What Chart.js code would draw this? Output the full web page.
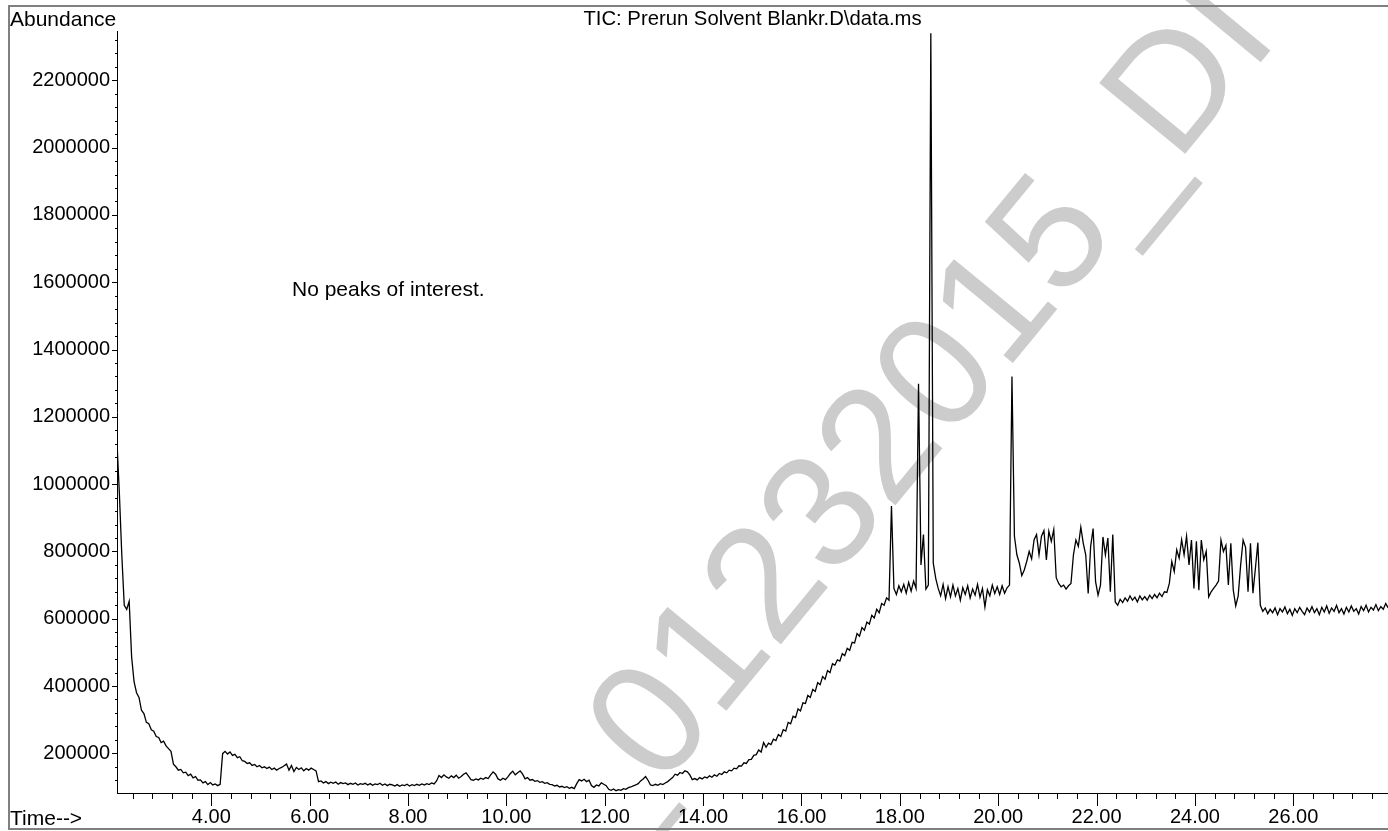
<!DOCTYPE html>
<html>
<head>
<meta charset="utf-8">
<script src="https://cdn.jsdelivr.net/npm/chart.js@4.4.1/dist/chart.umd.min.js"></script>
<style>
  html, body { margin: 0; padding: 0; background: #fff; }
  canvas { display: block; background: #fff; }
</style>
</head>
<body>
<canvas id="tic" width="1388" height="831"></canvas>
<script>
// TIC do branco de solvente (abundancia em milhares)
const scanStart = 2.08;   // min, primeiro scan
const scanStep = 0.05;    // min entre scans
const abundanceK = [
  1130, 975, 790, 640, 628, 652, 486, 412, 380, 366, 328, 318, 292, 288, 270, 266, 250, 247, 232, 236,
  222, 214, 206, 168, 160, 150, 152, 142, 144, 134, 138, 127, 131, 120, 121, 112, 116, 107, 113, 106,
  109, 104, 108, 199, 206, 198, 204, 194, 197, 187, 190, 178, 176, 170, 172, 164, 167, 160, 164, 157,
  160, 155, 159, 152, 156, 150, 155, 158, 163, 168, 150, 164, 146, 158, 152, 157, 148, 155, 150, 156,
  152, 148, 116, 118, 112, 116, 110, 114, 111, 115, 108, 113, 110, 112, 107, 111, 108, 112, 106, 110,
  108, 111, 106, 110, 105, 109, 107, 111, 105, 109, 104, 108, 106, 103, 107, 102, 106, 104, 108, 103,
  107, 104, 108, 105, 109, 106, 110, 107, 112, 109, 118, 134, 128, 136, 130, 126, 133, 128, 135, 126,
  131, 138, 142, 132, 122, 120, 124, 121, 126, 123, 128, 125, 136, 145, 138, 124, 120, 126, 122, 130,
  140, 147, 136, 142, 148, 138, 124, 128, 120, 122, 117, 119, 114, 116, 111, 113, 108, 107, 103, 105,
  100, 102, 98, 101, 96, 99, 95, 110, 122, 118, 123, 116, 120, 104, 99, 106, 103, 112, 108, 104,
  93, 90, 94, 89, 92, 90, 95, 93, 98, 100, 103, 106, 110, 118, 124, 131, 120, 106, 104, 108,
  105, 110, 107, 112, 116, 122, 128, 138, 135, 143, 140, 148, 145, 136, 122, 125, 121, 128, 124, 130,
  127, 133, 129, 136, 132, 140, 137, 145, 142, 150, 148, 156, 154, 163, 162, 172, 170, 181, 182, 194,
  196, 210, 204, 232, 218, 230, 226, 242, 238, 256, 250, 270, 266, 292, 288, 310, 306, 332, 326, 350,
  348, 372, 366, 390, 384, 410, 404, 428, 420, 446, 440, 466, 462, 478, 474, 496, 490, 512, 506, 530,
  528, 556, 548, 574, 566, 590, 584, 610, 602, 628, 618, 645, 640, 662, 655, 935, 690, 672, 698, 680,
  702, 676, 708, 682, 712, 690, 1298, 760, 850, 688, 700, 2340, 765, 720, 690, 668, 702, 660, 695, 665,
  700, 668, 690, 655, 692, 672, 698, 662, 688, 670, 702, 664, 690, 635, 686, 668, 700, 675, 695, 672,
  698, 676, 692, 700, 1320, 845, 790, 765, 728, 745, 770, 800, 778, 835, 850, 790, 845, 862, 775, 860,
  830, 865, 722, 705, 695, 700, 688, 698, 705, 790, 834, 815, 872, 824, 790, 675, 815, 868, 710, 670,
  700, 843, 790, 840, 680, 850, 650, 640, 658, 648, 662, 652, 668, 655, 664, 650, 668, 656, 666, 655,
  670, 660, 672, 662, 676, 666, 680, 678, 705, 770, 740, 805, 780, 835, 790, 845, 760, 834, 690, 830,
  685, 834, 775, 800, 665, 680, 690, 700, 712, 834, 800, 818, 700, 824, 685, 638, 668, 760, 834, 812,
  680, 824, 676, 750, 826, 640, 622, 632, 615, 628, 618, 632, 612, 630, 620, 635, 615, 628, 610, 630,
  618, 634, 622, 612, 632, 620, 636, 618, 630, 612, 634, 620, 638, 616, 632, 622, 640, 618, 630, 614,
  634, 620, 638, 622, 630, 614, 636, 624, 640, 620, 634, 626, 642, 624, 636, 628, 645, 632
];

const tempoMin = 2.0825, tempoMax = 27.926;
const abundMin = 82100, abundMax = 2345550;
const yTickStep = 40000, yLabelStep = 200000;
const xTickStep = 0.4, xLabelStep = 2;
const tituloGrafico = 'TIC: Prerun Solvent Blankr.D\\data.ms';
const rotuloY = 'Abundance';
const rotuloX = 'Time-->';
const nota = 'No peaks of interest.';
const marcaDagua = '_01232015_DI';

const fonte = "'Liberation Sans', Arial, Helvetica, sans-serif";
Chart.defaults.font.family = fonte;
Chart.defaults.font.size = 20;
Chart.defaults.color = '#000';

const pontos = abundanceK.map((v, i) => ({
  x: Math.round((scanStart + i * scanStep) * 100) / 100,
  y: v * 1000
}));

const multiplo = (v, passo) => Math.abs(v / passo - Math.round(v / passo)) < 1e-6;

// marcas em multiplos exatos do passo, dentro dos limites do eixo
function marcasEixo(min, max, passo) {
  const lista = [];
  for (let k = Math.ceil(min / passo + 1e-9); k * passo < max; k++) {
    lista.push({ value: Math.round(k * passo * 1000) / 1000 });
  }
  return lista;
}

const extras = {
  id: 'extras',
  beforeDraw(chart) {
    // marca d'agua cinza por baixo de tudo
    const ctx = chart.ctx;
    ctx.save();
    ctx.font = '162px ' + fonte;
    ctx.fillStyle = '#cccccc';
    ctx.translate(645, 718);
    ctx.rotate(-50.5 * Math.PI / 180);
    const w0 = ctx.measureText(marcaDagua.charAt(0)).width;
    const w1 = ctx.measureText(marcaDagua.charAt(1)).width;
    ctx.textBaseline = 'alphabetic';
    ctx.fillText(marcaDagua, -(w0 + w1 / 2), 0.358 * 162);
    ctx.restore();
  },
  afterDraw(chart) {
    const { ctx, chartArea } = chart;
    const sx = chart.scales.x, sy = chart.scales.y;
    ctx.save();
    ctx.strokeStyle = '#000';
    ctx.lineWidth = 1;
    ctx.beginPath();
    sx.ticks.forEach(t => {
      const px = Math.round(sx.getPixelForValue(t.value)) + 0.5;
      const len = multiplo(t.value, xLabelStep) ? 13 : 6;
      ctx.moveTo(px, chartArea.bottom);
      ctx.lineTo(px, chartArea.bottom + len);
    });
    sy.ticks.forEach(t => {
      const py = Math.round(sy.getPixelForValue(t.value)) + 0.5;
      const len = multiplo(t.value, yLabelStep) ? 5 : 2;
      ctx.moveTo(chartArea.left - len, py);
      ctx.lineTo(chartArea.left, py);
    });
    ctx.stroke();

    ctx.fillStyle = '#000';
    ctx.font = '21px ' + fonte;
    ctx.textBaseline = 'alphabetic';
    ctx.textAlign = 'left';
    ctx.fillText(rotuloY, 10, 26);
    ctx.fillText(rotuloX, 10, 825);
    ctx.fillText(nota, 292, 296);

    // moldura cinza
    ctx.strokeStyle = '#808080';
    ctx.lineWidth = 2;
    ctx.strokeRect(9, 6, 1400, 823);
    ctx.restore();
  }
};

const ctx = document.getElementById('tic').getContext('2d');
new Chart(ctx, {
  type: 'line',
  data: {
    datasets: [{
      data: pontos,
      borderColor: '#000',
      borderWidth: 1.3,
      pointRadius: 0,
      tension: 0,
      fill: false
    }]
  },
  options: {
    responsive: false,
    animation: false,
    layout: { padding: 0 },
    plugins: {
      legend: { display: false },
      tooltip: { enabled: false },
      title: {
        display: true,
        text: tituloGrafico,
        fullSize: false,
        color: '#000',
        font: { size: 20.3, weight: 'normal' },
        padding: { top: 7, bottom: 0 }
      }
    },
    scales: {
      x: {
        type: 'linear',
        min: tempoMin,
        max: tempoMax,
        grid: { display: false, drawTicks: false },
        border: { display: true, color: '#000', width: 1 },
        afterBuildTicks: s => { s.ticks = marcasEixo(tempoMin, tempoMax, xTickStep); },
        ticks: {
          autoSkip: false,
          maxRotation: 0,
          minRotation: 0,
          padding: 12,
          callback: v => multiplo(v, xLabelStep) ? v.toFixed(2) : ''
        },
        afterFit: s => { s.height = 38; }
      },
      y: {
        type: 'linear',
        min: abundMin,
        max: abundMax,
        grid: { display: false, drawTicks: false },
        border: { display: true, color: '#000', width: 1 },
        afterBuildTicks: s => { s.ticks = marcasEixo(abundMin, abundMax, yTickStep); },
        ticks: {
          autoSkip: false,
          padding: 7,
          callback: v => multiplo(v, yLabelStep) ? String(Math.round(v)) : ''
        },
        afterFit: s => { s.width = 117; }
      }
    }
  },
  plugins: [extras]
});
</script>
</body>
</html>
